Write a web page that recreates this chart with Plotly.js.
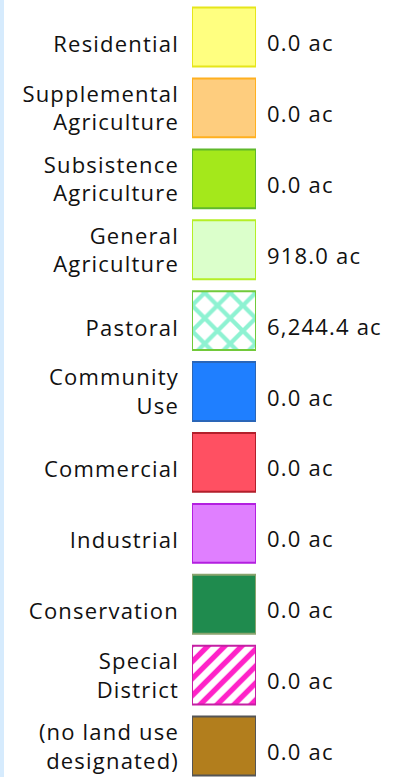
<!DOCTYPE html>
<html>
<head>
<meta charset="utf-8">
<script src="https://cdn.plot.ly/plotly-3.0.1.min.js"></script>
<style>
  html, body { margin: 0; padding: 0; background: #ffffff; }
  #chart { width: 402px; height: 777px; }
  #strip { position: absolute; left: 0; top: 0; width: 4px; height: 777px; background: #d6ebfd; z-index: 10; }
  svg text { letter-spacing: 1.2px; }
</style>
</head>
<body>
<div id="strip"></div>
<div id="chart"></div>
<script>
// ---- data ----
const categories = [
  "Residential",
  "Supplemental<br>Agriculture",
  "Subsistence<br>Agriculture",
  "General<br>Agriculture",
  "Pastoral",
  "Community<br>Use",
  "Commercial",
  "Industrial",
  "Conservation",
  "Special<br>District",
  "(no land use<br>designated)"
];
const acres = [0.0, 0.0, 0.0, 918.0, 6244.4, 0.0, 0.0, 0.0, 0.0, 0.0, 0.0];
const fillColors = ["#ffff80", "#fecd7e", "#a4e81b", "#dbffcb", "#ffffff", "#1f7fff", "#ff5062", "#e07fff", "#1f8b4e", "#ffffff", "#b27e1d"];
const lineColors = ["#e6e61a", "#ffb020", "#5fb82b", "#b5ee26", "#72c93a", "#2a66b8", "#b21f2b", "#b31fe0", "#8aa46e", "#c41fa3", "#555555"];
const patternShapes = ["", "", "", "", "x", "", "", "", "", "/", ""];
const patternColors = ["", "", "", "", "#8ef2d2", "", "", "", "", "#ff22c8", ""];

// ---- derived ----
const idx = categories.map((c, i) => i);
const valueLabels = acres.map(v => v.toLocaleString("en-US", {minimumFractionDigits: 1, maximumFractionDigits: 1}) + " ac");
const singleIdx = idx.filter(i => categories[i].indexOf("<br>") < 0);
const doubleIdx = idx.filter(i => categories[i].indexOf("<br>") >= 0);

const topR = -0.522, botR = 10.437;
const unitPx = 70.9;
const font = {family: "Open Sans, sans-serif", size: 22, color: "#111111"};

const traces = idx.map(i => {
  const t = {
    type: "bar", orientation: "h",
    x: [1], y: [i], width: 0.83,
    marker: {color: fillColors[i], line: {color: lineColors[i], width: 2}},
    hoverinfo: "skip", showlegend: false
  };
  if (patternShapes[i]) {
    t.marker.pattern = {
      shape: patternShapes[i],
      fgcolor: patternColors[i],
      bgcolor: "#ffffff",
      size: patternShapes[i] === "x" ? 18 : 12,
      solidity: patternShapes[i] === "x" ? 0.42 : 0.45,
      fillmode: "replace"
    };
  }
  return t;
});
["y2", "y3", "y4"].forEach(ax => traces.push({
  type: "scatter", mode: "markers", x: idx.map(() => 0), y: idx, yaxis: ax,
  marker: {opacity: 0}, hoverinfo: "skip", showlegend: false
}));

function shifted(px) { const d = px / unitPx; return [botR - d, topR - d]; }

const labelAxis = (side, vals, texts, px) => ({
  overlaying: "y", side: side, anchor: "x",
  range: shifted(px),
  tickmode: "array", tickvals: vals, ticktext: texts,
  showgrid: false, zeroline: false, showline: false, ticks: "",
  ticklabelstandoff: side === "left" ? 12 : 10,
  tickfont: font, fixedrange: true
});

const layout = {
  width: 402, height: 777,
  margin: {l: 192, r: 146, t: 0, b: 0},
  paper_bgcolor: "#ffffff", plot_bgcolor: "#ffffff",
  showlegend: false,
  bargap: 0, barmode: "overlay",
  xaxis: {range: [0, 1], visible: false, fixedrange: true},
  yaxis: {range: [botR, topR], showticklabels: false, showgrid: false, zeroline: false, ticks: "", fixedrange: true},
  yaxis2: labelAxis("right", idx, valueLabels, 6.3),
  yaxis3: labelAxis("left", singleIdx, singleIdx.map(i => categories[i]), 7.3),
  yaxis4: labelAxis("left", doubleIdx, doubleIdx.map(i => categories[i]), 0.5)
};

Plotly.newPlot("chart", traces, layout, {displayModeBar: false, staticPlot: true});
</script>
</body>
</html>
